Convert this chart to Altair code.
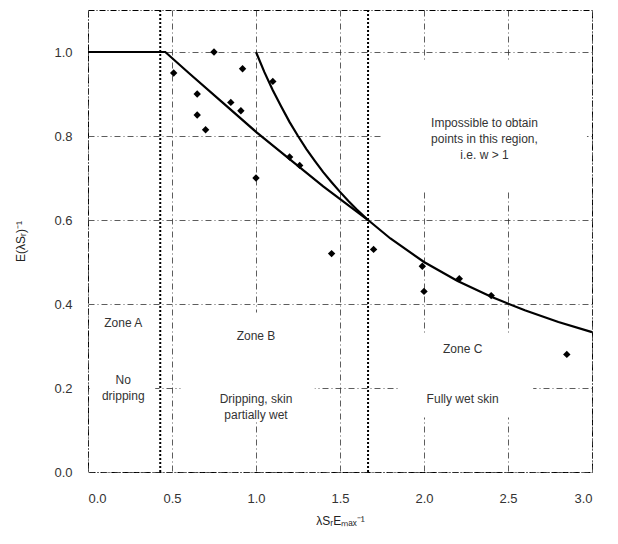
import altair as alt
import pandas as pd

# observed points (diamonds)
pt_x = [0.51, 0.75, 0.92, 0.65, 0.65, 0.70, 0.85, 0.91, 1.10, 1.20, 1.26, 1.00,
        1.45, 1.70, 1.99, 2.00, 2.21, 2.40, 2.85]
pt_y = [0.95, 1.00, 0.96, 0.90, 0.85, 0.815, 0.88, 0.86, 0.93, 0.75, 0.73, 0.70,
        0.52, 0.53, 0.49, 0.43, 0.46, 0.42, 0.28]

# lower (model) curve
low_x = [0.0, 0.46, 0.6, 0.8, 1.0, 1.2, 1.4, 1.667, 1.8, 2.0, 2.2, 2.4, 2.6, 2.8, 3.0]
low_y = [1.0, 1.0, 0.95, 0.88, 0.81, 0.745, 0.68, 0.60, 0.556, 0.50, 0.455, 0.417, 0.385, 0.357, 0.333]

# upper (w = 1) curve
up_x = [1.0, 1.05, 1.1, 1.15, 1.2, 1.25, 1.3, 1.35, 1.4, 1.45, 1.5, 1.55, 1.6, 1.667]
up_y = [1.0, 0.952, 0.909, 0.87, 0.833, 0.80, 0.769, 0.741, 0.714, 0.69, 0.667, 0.645, 0.625, 0.60]

# zone boundaries
zone_x = [0.43, 1.667]

# white label boxes that hide the grid behind the annotations
box_x1 = [1.75, 0.01, 0.55, 1.85]
box_x2 = [2.97, 0.40, 1.35, 2.65]
box_y1 = [0.67, 0.13, 0.12, 0.13]
box_y2 = [0.98, 0.38, 0.38, 0.33]

# annotations
txt_x = [2.36, 0.21, 0.21, 1.0, 1.0, 2.23, 2.23]
txt_y = [0.83, 0.355, 0.22, 0.325, 0.175, 0.294, 0.175]
txt = ["Impossible to obtain\npoints in this region,\ni.e. w > 1",
       "Zone A", "No\ndripping", "Zone B", "Dripping, skin\npartially wet",
       "Zone C", "Fully wet skin"]

x_ticks = [0.0, 0.5, 1.0, 1.5, 2.0, 2.5, 3.0]
y_ticks = [0.0, 0.2, 0.4, 0.6, 0.8, 1.0]

pts = pd.DataFrame({"x": pt_x, "y": pt_y})
low = pd.DataFrame({"x": low_x, "y": low_y})
up = pd.DataFrame({"x": up_x, "y": up_y})
zones = pd.DataFrame({"x": zone_x})
boxes = pd.DataFrame({"x": box_x1, "x2": box_x2, "y": box_y1, "y2": box_y2})
notes = pd.DataFrame({"x": txt_x, "y": txt_y, "t": txt})

xs = alt.Scale(domain=[0, 3], nice=False)
ys = alt.Scale(domain=[0, 1.1], nice=False)

common = dict(grid=True, domain=False, ticks=False,
              gridColor="#333333", gridDash=[6, 3, 1, 3], gridWidth=0.8,
              labelFont="Liberation Sans", labelFontSize=13, labelColor="#333333",
              titleFont="Liberation Sans", titleFontSize=12, titleColor="#222222",
              titleFontWeight="normal")

xax = alt.Axis(values=x_ticks, format=".1f", title="λSᵣEₘₐₓ⁻¹",
               labelPadding=20, titlePadding=10, **common)
yax = alt.Axis(values=y_ticks, format=".1f", title="E(λSᵣ)⁻¹",
               labelPadding=16, titlePadding=26, **common)

box_layer = alt.Chart(boxes).mark_rect(color="white", opacity=1).encode(
    x=alt.X("x:Q", scale=xs, axis=xax), x2="x2:Q",
    y=alt.Y("y:Q", scale=ys, axis=yax), y2="y2:Q")

base_pts = alt.Chart(pts).mark_point(shape="diamond", filled=True, color="black", size=55, opacity=1).encode(
    x=alt.X("x:Q", scale=xs), y=alt.Y("y:Q", scale=ys))

line_low = alt.Chart(low).mark_line(color="black", strokeWidth=2.2).encode(
    x=alt.X("x:Q", scale=xs), y=alt.Y("y:Q", scale=ys))
line_up = alt.Chart(up).mark_line(color="black", strokeWidth=2.2).encode(
    x=alt.X("x:Q", scale=xs), y=alt.Y("y:Q", scale=ys))

zone_rules = alt.Chart(zones).mark_rule(color="black", strokeWidth=2, strokeDash=[2, 2]).encode(
    x=alt.X("x:Q", scale=xs))

text = alt.Chart(notes).mark_text(font="Liberation Sans", fontSize=12, color="#333333",
                                  lineBreak="\n", lineHeight=16, align="center").encode(
    x=alt.X("x:Q", scale=xs), y=alt.Y("y:Q", scale=ys), text="t:N")

chart = alt.layer(box_layer, zone_rules, line_low, line_up, base_pts, text).properties(
    width=504, height=462,
    background="white",
    autosize=alt.AutoSizeParams(type="none"),
    padding={"left": 80, "top": 2, "right": 18, "bottom": 56},
).configure_view(
    stroke="black", strokeDash=[6, 2, 1, 2], strokeWidth=1
)

chart.save("out.html", embed_options={"renderer": "svg", "actions": False})
